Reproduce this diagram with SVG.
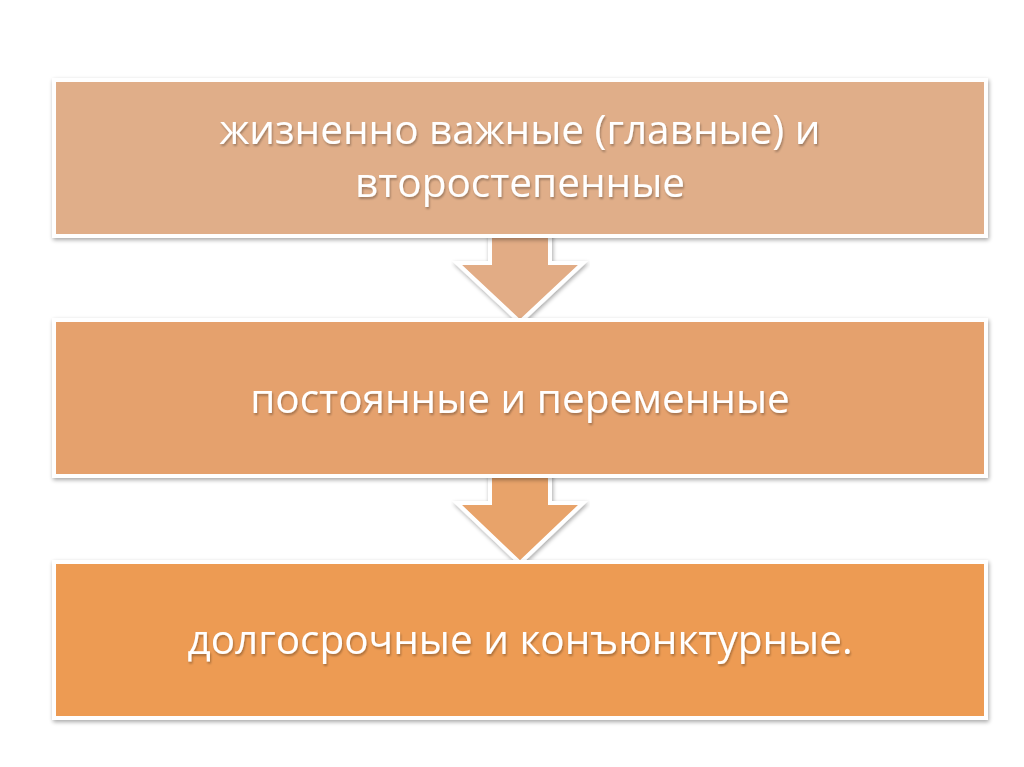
<svg xmlns="http://www.w3.org/2000/svg" width="1024" height="767" viewBox="0 0 1024 767">
<defs>
<filter id="sh" x="-5%" y="-10%" width="110%" height="125%">
<feGaussianBlur in="SourceAlpha" stdDeviation="2"/>
<feOffset dx="1" dy="2" result="b"/>
<feComponentTransfer><feFuncA type="linear" slope="0.35"/></feComponentTransfer>
<feMerge><feMergeNode/><feMergeNode in="SourceGraphic"/></feMerge>
</filter>
<filter id="tsh" x="-5%" y="-20%" width="110%" height="140%">
<feGaussianBlur in="SourceAlpha" stdDeviation="1"/>
<feOffset dx="1" dy="1.5"/>
<feComponentTransfer><feFuncA type="linear" slope="0.3"/></feComponentTransfer>
<feMerge><feMergeNode/><feMergeNode in="SourceGraphic"/></feMerge>
</filter>
</defs>
<style>
.box{stroke:#ffffff;stroke-width:4}
.arr{stroke:#ffffff;stroke-width:4;stroke-linejoin:miter}
.t{font-family:"Open Sans","DejaVu Sans",sans-serif;font-size:40.5px;fill:#ffffff;text-anchor:middle}
</style>
<rect width="1024" height="767" fill="#ffffff"/>
<g id="connectors" filter="url(#sh)">
<polygon class="arr" points="490,200 550,200 550,263 583,263 520,322 457,263 490,263" fill="#E2AC85"/>
<polygon class="arr" points="490,440 550,440 550,503 583,503 520,563 457,503 490,503" fill="#E8A36A"/>
</g>
<g id="node1" filter="url(#sh)">
<rect class="box" x="54" y="80" width="932" height="156" fill="#E0AE89"/>
<text class="t" x="520" y="144" filter="url(#tsh)">жизненно важные (главные) и</text>
<text class="t" x="520" y="197" filter="url(#tsh)">второстепенные</text>
</g>
<g id="node2" filter="url(#sh)">
<rect class="box" x="54" y="320" width="932" height="156" fill="#E5A16D"/>
<text class="t" x="520" y="413" filter="url(#tsh)">постоянные и переменные</text>
</g>
<g id="node3" filter="url(#sh)">
<rect class="box" x="54" y="562" width="932" height="156" fill="#ED9B53"/>
<text class="t" x="520" y="654" filter="url(#tsh)">долгосрочные и конъюнктурные.</text>
</g>
</svg>
